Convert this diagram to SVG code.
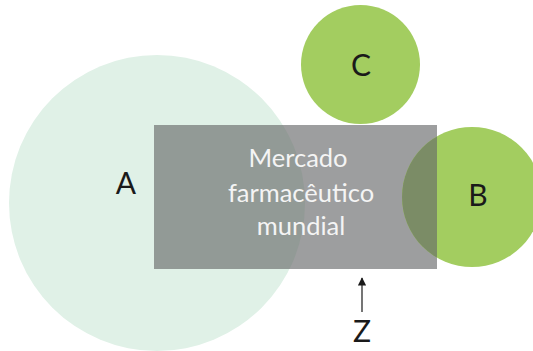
<svg xmlns="http://www.w3.org/2000/svg" width="533" height="351" viewBox="0 0 533 351">
<style>
.lbl{font-family:"Lato","Open Sans",sans-serif;font-size:30px;fill:#1a1a1a;text-anchor:middle}
.mt{font-family:"Lato","Open Sans",sans-serif;font-size:25.5px;fill:#f4f4f4;text-anchor:middle}
</style>
<defs>
<clipPath id="rc"><rect x="154" y="125" width="283" height="144"/></clipPath>
<marker id="ah" viewBox="0 0 10 10" refX="9" refY="5" markerWidth="7" markerHeight="7" orient="auto-start-reverse"><path d="M0,0 L10,5 L0,10 z" fill="#1a1a1a"/></marker>
</defs>
<rect width="533" height="351" fill="#ffffff"/>
<g id="A">
<circle cx="157" cy="203" r="148" fill="#e0f1e7"/>
<text class="lbl" x="126" y="194">A</text>
</g>
<g id="C">
<circle cx="360.5" cy="64.5" r="59.5" fill="#a3cd60"/>
<text class="lbl" x="361" y="76">C</text>
</g>
<g id="market">
<rect x="154" y="125" width="283" height="144" fill="#9d9e9f"/>
<circle cx="157" cy="203" r="148" fill="#929a96" clip-path="url(#rc)"/>
<text class="mt" x="298" y="167">Mercado</text>
<text class="mt" x="301" y="202">farmacêutico</text>
<text class="mt" x="301" y="235">mundial</text>
</g>
<g id="B">
<circle cx="472" cy="197" r="70" fill="#a3cd60"/>
<circle cx="472" cy="197" r="70" fill="#7b8c66" clip-path="url(#rc)"/>
<text class="lbl" x="478" y="206">B</text>
</g>
<g id="connectors">
<line x1="362" y1="312" x2="362" y2="278" stroke="#1a1a1a" stroke-width="1.2" marker-end="url(#ah)"/>
</g>
<g id="Z">
<text class="lbl" x="362" y="342">Z</text>
</g>
</svg>
